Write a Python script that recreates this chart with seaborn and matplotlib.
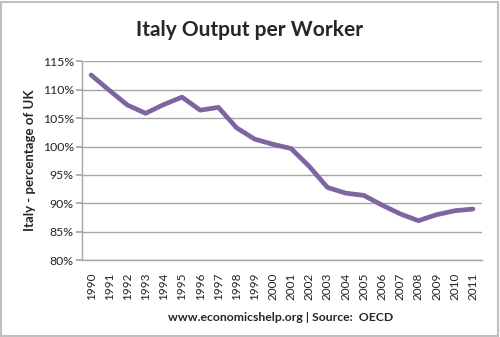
import matplotlib
matplotlib.use("Agg")
import matplotlib.pyplot as plt
import seaborn as sns
import pandas as pd
from matplotlib.ticker import FuncFormatter
from matplotlib.patches import Rectangle

years = [str(y) for y in range(1990, 2012)]
values = [112.6, 109.9, 107.3, 105.85, 107.4, 108.7, 106.4, 106.9, 103.3, 101.3,
          100.4, 99.65, 96.5, 92.8, 91.8, 91.4, 89.7, 88.15, 86.95, 88.0, 88.7, 89.0]
yticks = [80, 85, 90, 95, 100, 105, 110, 115]

sns.set_theme(style="white")
plt.rcParams['font.family'] = ['Lato', 'DejaVu Sans']

df = pd.DataFrame({"year": years, "value": values})

fig = plt.figure(figsize=(5.0, 3.37), dpi=100)
ax = fig.add_axes([0.164, 0.228, 0.8, 0.59])
sns.lineplot(data=df, x="year", y="value", ax=ax, color="#8064A2", linewidth=3.4,
             sort=False)

ax.set_xlim(-0.5, len(years) - 0.5)
ax.set_ylim(80, 115)
ax.set_yticks(yticks)
ax.yaxis.set_major_formatter(FuncFormatter(lambda v, p: f"{int(v)}%"))
ax.grid(axis="y", color="#A6A6A6", linewidth=1.0)
ax.set_axisbelow(True)
for s in ["top", "right"]:
    ax.spines[s].set_visible(False)
for s in ["left", "bottom"]:
    ax.spines[s].set_color("#A6A6A6")
    ax.spines[s].set_linewidth(1.0)
ax.tick_params(axis="y", which="major", left=True, length=4, color="#A6A6A6",
               labelsize=8.8, pad=2, labelcolor="#222222")
ax.tick_params(axis="x", bottom=False, labelsize=8.5, labelrotation=90, pad=3,
               labelcolor="#222222")
ax.set_xlabel("")
ax.set_ylabel("Italy - percentage of UK", fontsize=9.5, fontweight="bold", labelpad=5)

fig.text(0.5, 0.91, "Italy Output per Worker", ha="center", va="center",
         fontsize=15, fontweight="bold")
fig.text(0.562, 0.058, "www.economicshelp.org | Source:  OECD", ha="center",
         va="center", fontsize=8.8, fontweight="bold")

fig.patches.append(Rectangle((0.002, 0.003), 0.994, 0.992, transform=fig.transFigure,
                             fill=False, edgecolor="#BFBFBF", linewidth=1.5))

fig.savefig("out.png", dpi=100)
